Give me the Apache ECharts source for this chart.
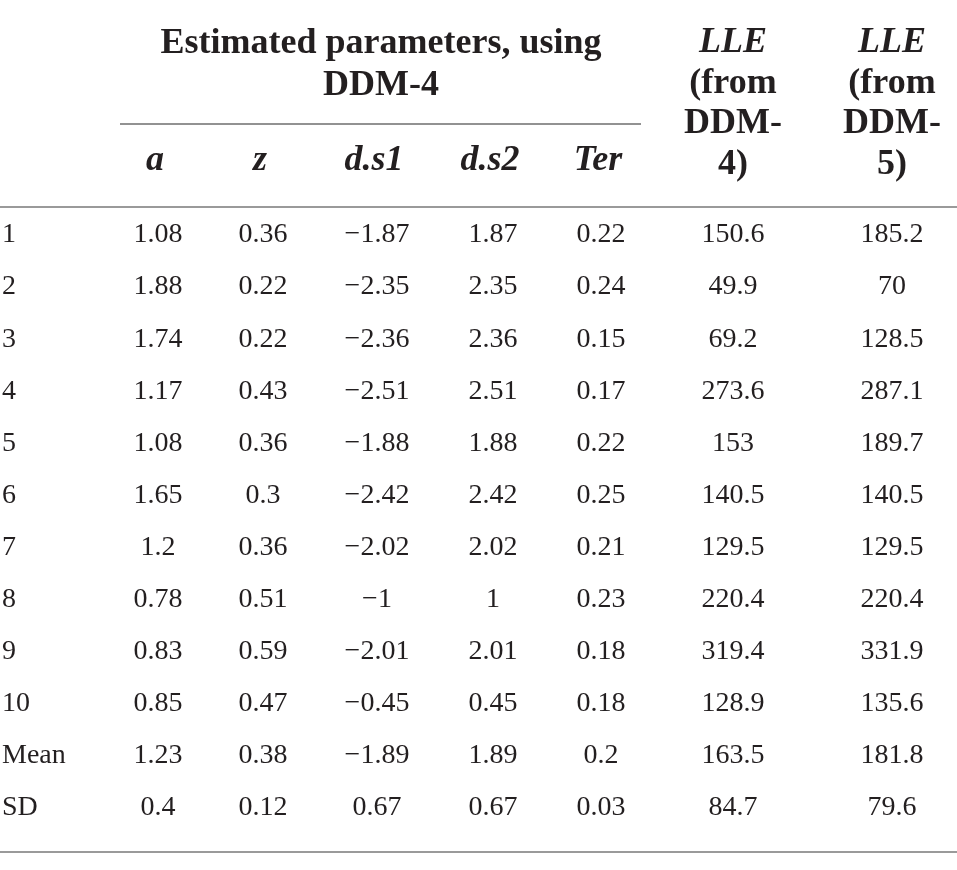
<!DOCTYPE html>
<html>
<head>
<meta charset="utf-8">
<script src="https://cdn.jsdelivr.net/npm/echarts@6/dist/echarts.min.js"></script>
<style>
  html, body { margin: 0; padding: 0; background: #fff; }
  #main { width: 957px; height: 870px; }
</style>
</head>
<body>
<div id="main"></div>
<script>
// table data -----------------------------------------
var rows = ['1', '2', '3', '4', '5', '6', '7', '8', '9', '10', 'Mean', 'SD'];
var colA = [1.08, 1.88, 1.74, 1.17, 1.08, 1.65, 1.2, 0.78, 0.83, 0.85, 1.23, 0.4];
var colZ = [0.36, 0.22, 0.22, 0.43, 0.36, 0.3, 0.36, 0.51, 0.59, 0.47, 0.38, 0.12];
var colDs1 = [-1.87, -2.35, -2.36, -2.51, -1.88, -2.42, -2.02, -1, -2.01, -0.45, -1.89, 0.67];
var colDs2 = [1.87, 2.35, 2.36, 2.51, 1.88, 2.42, 2.02, 1, 2.01, 0.45, 1.89, 0.67];
var colTer = [0.22, 0.24, 0.15, 0.17, 0.22, 0.25, 0.21, 0.23, 0.18, 0.18, 0.2, 0.03];
var colLle4 = [150.6, 49.9, 69.2, 273.6, 153, 140.5, 129.5, 220.4, 319.4, 128.9, 163.5, 84.7];
var colLle5 = [185.2, 70, 128.5, 287.1, 189.7, 140.5, 129.5, 220.4, 331.9, 135.6, 181.8, 79.6];

var subHeaders = ['a', 'z', 'd.s1', 'd.s2', 'Ter'];
var spanHeader = ['Estimated parameters, using', 'DDM-4'];
var lleHeader4 = ['LLE', '(from', 'DDM-', '4)'];
var lleHeader5 = ['LLE', '(from', 'DDM-', '5)'];

// layout (column centres in px) ----------------------
var columns = [colA, colZ, colDs1, colDs2, colTer, colLle4, colLle5];
var colX = [158, 263, 377, 493, 601, 733, 892];

var SERIF = '"Liberation Serif", "DejaVu Serif", serif';
var INK = '#231f20';

function fmt(v) {
    return String(v).replace('-', '\u2212');
}

var myChart = echarts.init(document.getElementById('main'));

var cellLabel = {
    show: true,
    position: 'inside',
    formatter: function (p) { return p.value[2]; },
    fontFamily: SERIF,
    fontSize: 28,
    color: INK
};

var series = [];
// row labels
series.push({
    type: 'scatter',
    symbolSize: 0,
    silent: true,
    itemStyle: { opacity: 1, color: 'transparent' },
    data: rows.map(function (r) { return [0, r, r]; }),
    label: Object.assign({}, cellLabel, { position: 'right', distance: 2 })
});
columns.forEach(function (col, k) {
    series.push({
        type: 'scatter',
        symbolSize: 0,
        silent: true,
        itemStyle: { opacity: 1, color: 'transparent' },
        data: col.map(function (v, i) { return [colX[k], rows[i], fmt(v)]; }),
        label: cellLabel
    });
});

// header texts + rules
var graphics = [];
function headText(str, x, y, italic) {
    graphics.push({
        type: 'text',
        silent: true,
        style: {
            text: str,
            x: x,
            y: y,
            align: 'center',
            verticalAlign: 'middle',
            font: (italic ? 'italic ' : '') + 'bold 36px ' + SERIF,
            fill: INK
        }
    });
}
spanHeader.forEach(function (t, i) { headText(t, 381, 44 + i * 42, false); });
subHeaders.forEach(function (t, i) { headText(t, colX[i] - 3, 161, true); });
lleHeader4.forEach(function (t, i) { headText(t, colX[5], 43 + i * 40.5, i === 0); });
lleHeader5.forEach(function (t, i) { headText(t, colX[6], 43 + i * 40.5, i === 0); });

function rule(x1, x2, y, w, c) {
    graphics.push({
        type: 'line',
        silent: true,
        shape: { x1: x1, y1: y, x2: x2, y2: y },
        style: { stroke: c, lineWidth: w }
    });
}
rule(120, 641, 124, 1.5, '#6e6e6e');
rule(0, 957, 207, 2, '#9a9a9a');
rule(0, 957, 852, 2, '#9a9a9a');

var option = {
    animation: false,
    backgroundColor: '#fff',
    grid: { left: 0, right: 0, top: 209, bottom: 36 },
    xAxis: { type: 'value', min: 0, max: 957, show: false },
    yAxis: { type: 'category', data: rows, inverse: true, show: false },
    graphic: graphics,
    series: series
};

myChart.setOption(option);
</script>
</body>
</html>
